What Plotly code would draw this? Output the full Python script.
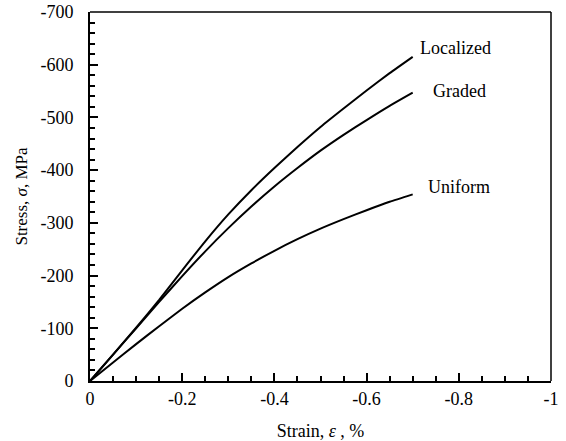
import plotly.graph_objects as go

strain = [0, -0.05, -0.1, -0.15, -0.2, -0.25, -0.3, -0.35, -0.4, -0.45, -0.5, -0.55, -0.6, -0.65, -0.7]
localized = [0, -50, -101, -154, -210, -265, -316, -362, -404, -444, -482, -517, -551, -584, -615]
graded = [0, -50, -100, -150, -199, -246, -290, -331, -369, -404, -437, -467, -495, -522, -547]
uniform = [0, -35, -70, -104, -137, -168, -197, -223, -247, -269, -289, -307, -324, -340, -354]

labels = ["Localized", "Graded", "Uniform"]
label_dx = [5, 18, 13]
label_dy = [9, 2, 7]
series = [localized, graded, uniform]

xticks = [0, -0.2, -0.4, -0.6, -0.8, -1]
xticktext = ["0", "-0.2", "-0.4", "-0.6", "-0.8", "-1"]
yticks = [0, -100, -200, -300, -400, -500, -600, -700]
yticktext = ["0", "-100", "-200", "-300", "-400", "-500", "-600", "-700"]

FONT = "Liberation Serif"

fig = go.Figure()
for name, vals, dx, dy in zip(labels, series, label_dx, label_dy):
    fig.add_trace(go.Scatter(x=strain, y=vals, mode="lines", name=name,
                             line=dict(color="black", width=2, shape="spline", smoothing=0.5),
                             showlegend=False))
    fig.add_annotation(x=strain[-1], y=vals[-1], text=name, showarrow=False,
                       xanchor="left", yanchor="middle", xshift=dx, yshift=dy,
                       font=dict(family=FONT, size=18, color="black"))

fig.update_layout(
    width=566, height=441,
    margin=dict(l=90, r=15, t=12, b=60),
    paper_bgcolor="white", plot_bgcolor="white",
    font=dict(family=FONT, size=15, color="black"),
    xaxis=dict(range=[0, -1], tickmode="array", tickvals=xticks, ticktext=xticktext,
               ticks="inside", ticklen=8, tickwidth=1.5, tickcolor="black",
               minor=dict(dtick=0.05, tick0=0, ticks="inside", ticklen=5, tickcolor="black", tickwidth=1.5),
               showline=True, linecolor="black", linewidth=2, showgrid=False, zeroline=False,
               title=dict(text="Strain, <i>ε</i> , %", standoff=18,
                          font=dict(family=FONT, size=18, color="black")),
               tickfont=dict(family=FONT, size=18, color="black"), automargin=False),
    yaxis=dict(range=[0, -700], tickmode="array", tickvals=yticks, ticktext=yticktext,
               ticks="inside", ticklen=8, tickwidth=1.5, tickcolor="black",
               minor=dict(dtick=20, tick0=0, ticks="inside", ticklen=5, tickcolor="black", tickwidth=1.5),
               showline=True, linecolor="black", linewidth=2, showgrid=False, zeroline=False,
               title=dict(text="Stress, <i>σ</i>, MPa", standoff=8,
                          font=dict(family=FONT, size=17, color="black")),
               tickfont=dict(family=FONT, size=18, color="black"), ticklabelstandoff=11, automargin=False),
)
fig.add_shape(type="line", xref="paper", yref="paper", x0=0, x1=1, y0=1, y1=1,
              line=dict(color="black", width=1.5))
fig.add_shape(type="line", xref="paper", yref="paper", x0=1, x1=1, y0=0, y1=1,
              line=dict(color="black", width=1.5))

fig.write_html("out.html")
